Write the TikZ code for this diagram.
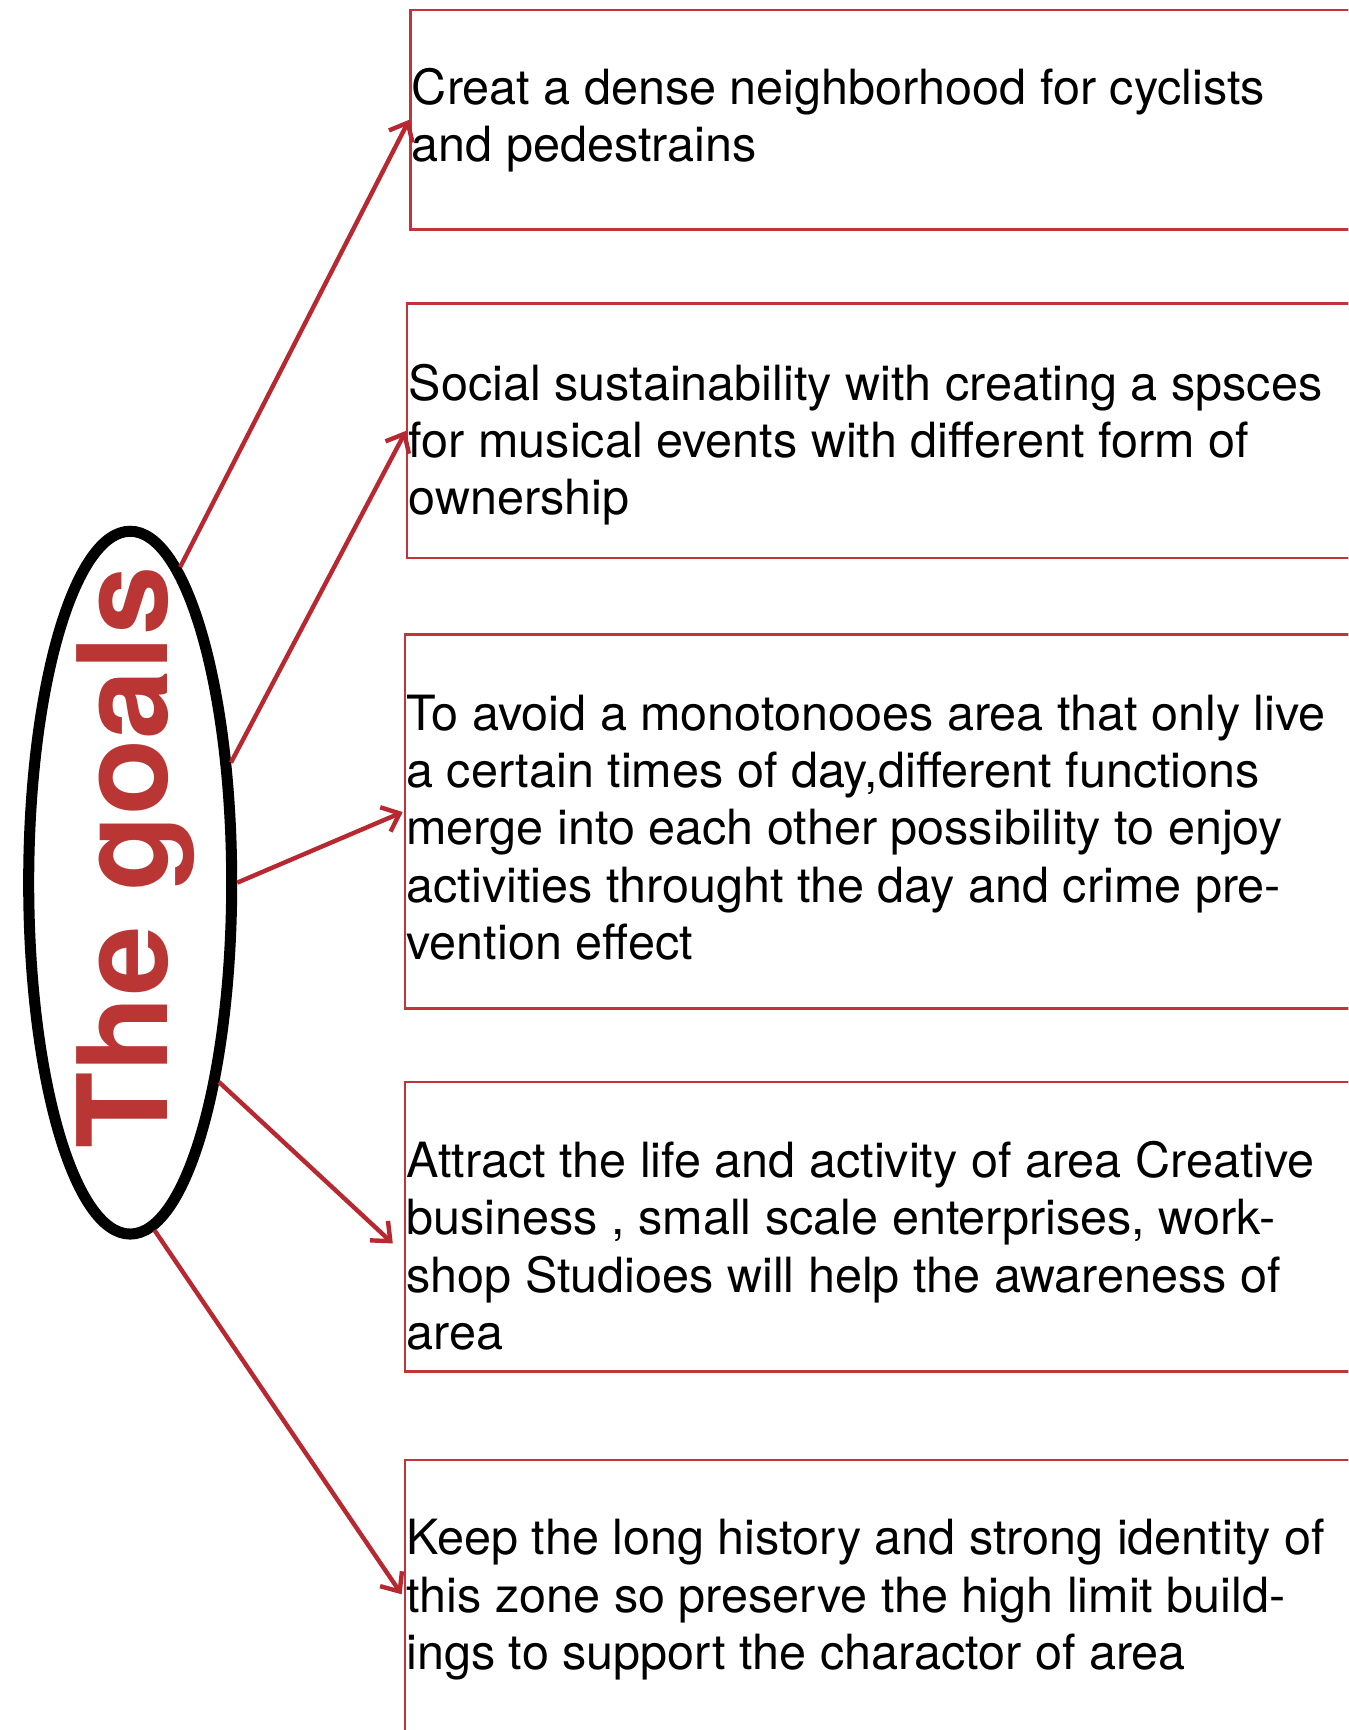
\documentclass[tikz,border=0pt]{standalone}
\usepackage{fontspec}
\setmainfont{TeX Gyre Heros}
\usetikzlibrary{shapes.geometric,arrows.meta}
\definecolor{arrowred}{RGB}{183,40,48}
\definecolor{boxred}{RGB}{192,52,58}
\definecolor{titlered}{RGB}{185,54,52}
\begin{document}
\begin{tikzpicture}[x=0.5pt,y=-0.5pt,
 goalbox/.style={draw=boxred, line width=1pt, rectangle, inner sep=0pt, anchor=north west},
 goaltext/.style={anchor=west, inner sep=0pt, align=left, font=\fontsize{22}{26}\selectfont},
 link/.style={draw=arrowred, line width=2pt, -{Straight Barb[length=7pt,width=12pt]}}]
\useasboundingbox (0,0) rectangle (1222,1568);
\clip (0,0) rectangle (1222,1568);
\fill[white] (0,0) rectangle (1222,1568);
% boxes
\node[goalbox, minimum width=434.5pt, minimum height=99.5pt] (box1) at (371,8) {};
\node[goalbox, minimum width=436pt, minimum height=115.5pt] (box2) at (368,274) {};
\node[goalbox, minimum width=437pt, minimum height=169.5pt] (box3) at (366,574) {};
\node[goalbox, minimum width=437pt, minimum height=131pt] (box4) at (366,980) {};
\node[goalbox, minimum width=437pt, minimum height=140pt] (box5) at (366,1322) {};
% texts
\node[goaltext] (t1) at (373,109) {Creat a dense neighborhood for cyclists\\and pedestrains};
\node[goaltext] (t2) at (370,403) {Social sustainability with creating a spsces\\for musical events with different form of\\ownership};
\node[goaltext] (t3) at (368,750) {To avoid a monotonooes area that only live\\a certain times of day,different functions\\merge into each other possibility to enjoy\\activities throught the day and crime pre-\\vention effect};
\node[goaltext] (t4) at (368,1129) {Attract the life and activity of area Creative\\business , small scale enterprises, work-\\shop Studioes will help the awareness of\\area};
\node[goaltext] (t5) at (368,1450) {Keep the long history and strong identity of\\this zone so preserve the high limit build-\\ings to support the charactor of area};
% ellipse
\node[ellipse, draw=black, line width=5pt, minimum width=92pt, minimum height=318.5pt, inner sep=0pt] (goal) at (118,800) {};
\node[rotate=90, anchor=base, inner sep=0pt, text=titlered, font=\fontsize{56.5}{60}\selectfont\bfseries] (title) at (152,777) {The goals};
% arrow ends
\coordinate (e3) at (365,736);
\coordinate (e4) at (356,1127);
\coordinate (e5) at (364,1445);
% arrows
\draw[link] (goal.81) -- (box1.west);
\draw[link] (goal.50) -- (box2.west);
\draw[link] (goal.east) -- (e3);
\draw[link] (goal.-66) -- (e4);
\draw[link] (goal.-86) -- (e5);
\end{tikzpicture}
\end{document}
